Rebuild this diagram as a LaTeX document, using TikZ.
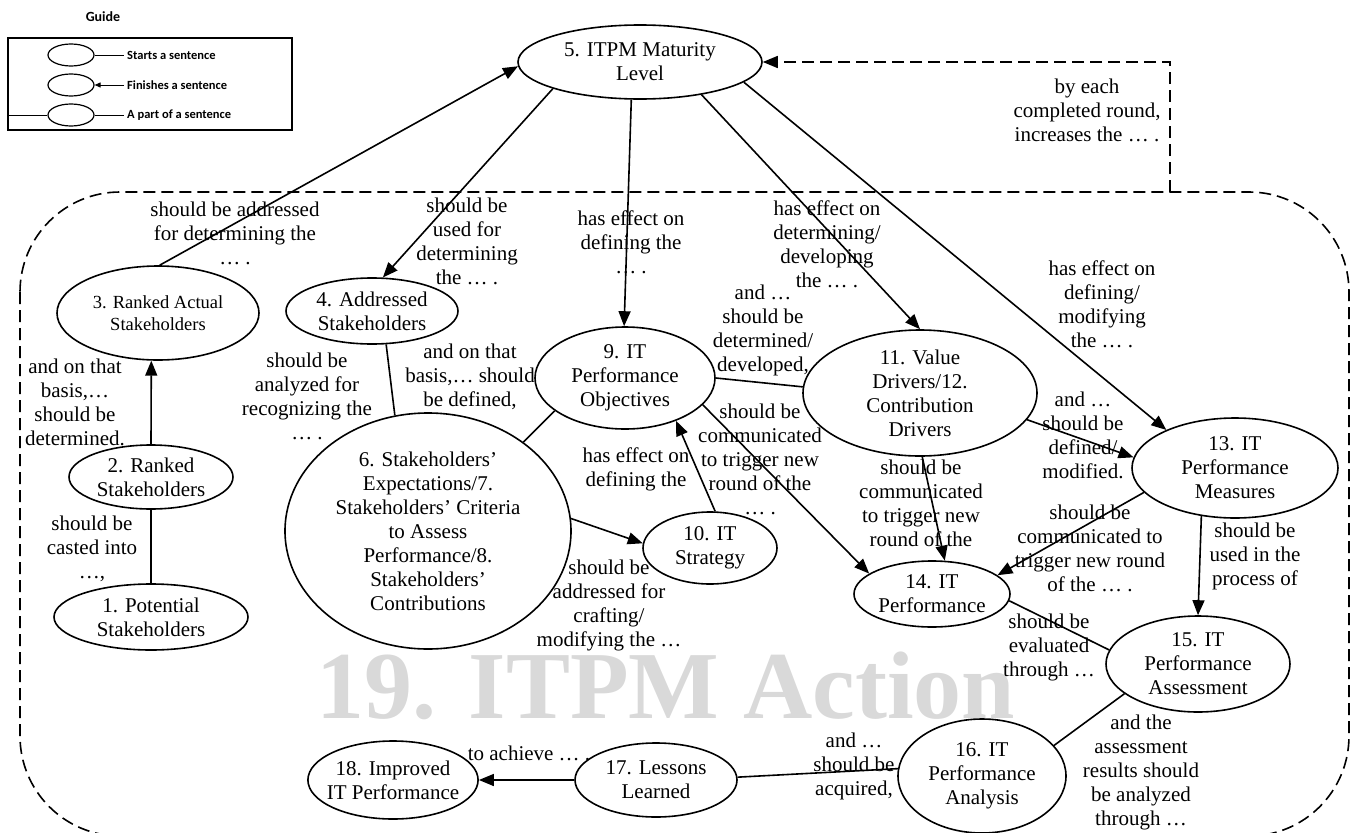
\documentclass[tikz,border=0pt]{standalone}
\usepackage{fontspec}
\setmainfont{Liberation Serif}
\newfontfamily\guidefont{Carlito}
\usetikzlibrary{arrows.meta,shapes.geometric}

\begin{document}
\begin{tikzpicture}[x=1pt,y=-1pt,
  every node/.style={font=\fontsize{21}{24}\selectfont},
  stage/.style={ellipse,draw,line width=1.6pt,inner sep=-6pt,align=center},
  lbl/.style={align=center,inner sep=0pt},
  link/.style={line width=1.6pt},
  arr/.style={line width=1.6pt,-{Triangle[length=15pt,width=12pt]}},
  loopline/.style={line width=1.6pt,dash pattern=on 12pt off 6pt},
  guidetext/.style={font=\guidefont\bfseries\fontsize{12.5}{14}\selectfont,anchor=west,inner sep=0pt},
  guideoval/.style={ellipse,draw,line width=1.2pt,minimum width=46pt,minimum height=22pt,inner sep=0pt},
  guideline/.style={line width=1pt},
]
\useasboundingbox (0,0) rectangle (1353,833);

% large background caption of the action cycle
\node[font=\fontsize{96}{96}\selectfont\bfseries,text=black!15,inner sep=0pt] (action) at (666,686) {19. ITPM Action};

% guide
\node[font=\guidefont\bfseries\fontsize{14}{16}\selectfont,inner sep=0pt] (gtitle) at (103,17) {Guide};
\draw[line width=1.2pt] (8,38) rectangle (292,130);
\node[guideoval] (g1) at (71,55) {};
\node[guideoval] (g2) at (71,85) {};
\node[guideoval] (g3) at (71,115) {};
\coordinate (g1e) at (124,55);
\coordinate (g2s) at (124,85);
\coordinate (g3w) at (8,115);
\coordinate (g3e) at (124,115);
\draw[guideline] (g1) -- (g1e);
\draw[guideline,-{Triangle[length=6pt,width=5pt]}] (g2s) -- (g2);
\draw[guideline] (g3w) -- (g3);
\draw[guideline] (g3) -- (g3e);
\node[guidetext] (g1t) at (127,55) {Starts a sentence};
\node[guidetext] (g2t) at (127,85) {Finishes a sentence};
\node[guidetext] (g3t) at (127,115) {A part of a sentence};

% the action cycle frame and its feedback to the maturity level
\draw[loopline,rounded corners=100pt] (20,192) rectangle (1349,836);

% stages
\node[stage,minimum width=244pt,minimum height=74pt] (n5) at (640,62) {5. ITPM Maturity\\Level};
\node[stage,minimum width=202pt,minimum height=94pt,font=\fontsize{18.5}{22}\selectfont] (n3) at (158,313) {3. Ranked Actual\\Stakeholders};
\node[stage,minimum width=172pt,minimum height=66pt] (n4) at (372,311) {4. Addressed\\Stakeholders};
\node[stage,minimum width=164pt,minimum height=64pt] (n2) at (151,477) {2. Ranked\\Stakeholders};
\node[stage,minimum width=194pt,minimum height=66pt] (n1) at (151,617) {1. Potential\\Stakeholders};
\node[stage,minimum width=286pt,minimum height=236pt] (n6) at (428,531) {6. Stakeholders’\\Expectations/7.\\Stakeholders’ Criteria\\to Assess\\Performance/8.\\Stakeholders’\\Contributions};
\node[stage,minimum width=180pt,minimum height=102pt] (n9) at (625,378) {9. IT\\Performance\\Objectives};
\node[stage,minimum width=134pt,minimum height=72pt] (n10) at (710,548) {10. IT\\Strategy};
\node[stage,minimum width=234pt,minimum height=126pt] (n11) at (920,393) {11. Value\\Drivers/12.\\Contribution\\Drivers};
\node[stage,minimum width=206pt,minimum height=100pt] (n13) at (1235,468) {13. IT\\Performance\\Measures};
\node[stage,minimum width=156pt,minimum height=66pt] (n14) at (932,594) {14. IT\\Performance};
\node[stage,minimum width=184pt,minimum height=96pt] (n15) at (1198,664) {15. IT\\Performance\\Assessment};
\node[stage,minimum width=168pt,minimum height=114pt] (n16) at (982,776) {16. IT\\Performance\\Analysis};
\node[stage,minimum width=162pt,minimum height=74pt] (n17) at (656,780) {17. Lessons\\Learned};
\node[stage,minimum width=168pt,minimum height=78pt] (n18) at (393,780) {18. Improved\\IT Performance};

\coordinate (fb) at (1170,192);
\draw[loopline,-{Triangle[length=15pt,width=12pt]}] (fb) |- (n5.east);

% connectors
\draw[arr] (n3.88) -- (n5.182);
\draw[arr] (n5.197) -- (n4.72);
\draw[arr] (n5.257) -- (n9.91);
\draw[arr] (n5.332) -- (n11.90);
\draw[arr] (n5.349) -- (n13.151);
\draw[arr] (n2.90) -- (n3.262);
\draw[link] (n1.90) -- (n2.270);
\draw[link] (n4.293) -- (n6.106);
\draw[link] (n6.43) -- (n9.205);
\draw[arr] (n6.5) -- (n10.176);
\draw[arr] (n10.82) -- (n9.320);
\draw[link] (n9.0) -- (n11.177);
\draw[arr] (n9.341) -- (n14.162);
\draw[arr] (n11.272) -- (n14.69);
\draw[arr] (n11.346) -- (n13.174);
\draw[arr] (n13.195) -- (n14.16);
\draw[arr] (n13.235) -- (n15.90);
\draw[link] (n14.355) -- (n15.171);
\draw[link] (n15.202) -- (n16.23);
\draw[link] (n16.175) -- (n17.2);
\draw[arr] (n17.west) -- (n18.east);

% connector texts
\node[lbl] (t35) at (235,233) {should be addressed\\for determining the\\… .};
\node[lbl] (t54) at (467,241) {should be\\used for\\determining\\the … .};
\node[lbl] (t59) at (631,242) {has effect on\\defining the\\… .};
\node[lbl] (t511) at (827,244) {has effect on\\determining/\\developing\\the … .};
\node[lbl] (t513) at (1102,304) {has effect on\\defining/\\modifying\\the … .};
\node[lbl] (t23) at (75,402) {and on that\\basis,…\\should be\\determined.};
\node[lbl] (t12) at (92,549) {should be\\casted into\\…,};
\node[lbl] (t46) at (307,396) {should be\\analyzed for\\recognizing the\\… .};
\node[lbl] (t69) at (470,377) {and on that\\basis,… should\\be defined,};
\node[lbl] (t610) at (609,605) {should be\\addressed for\\crafting/\\modifying the …};
\node[lbl] (t109) at (636,469) {has effect on\\defining the};
\node[lbl] (t911) at (763,330) {and …\\should be\\determined/\\developed,};
\node[lbl] (t914) at (760,459) {should be\\communicated\\to trigger new\\round of the\\… .};
\node[lbl] (t1114) at (921,503) {should be\\communicated\\to trigger new\\round of the};
\node[lbl] (t1113) at (1083,435) {and …\\should be\\defined/\\modified.};
\node[lbl] (t1314) at (1090,548) {should be\\communicated to\\trigger new round\\of the … .};
\node[lbl] (t1315) at (1255,556) {should be\\used in the\\process of};
\node[lbl] (t1415) at (1049,647) {should be\\evaluated\\through …};
\node[lbl] (t1516) at (1141,772) {and the\\assessment\\results should\\be analyzed\\through …};
\node[lbl] (t1617) at (854,766) {and …\\should be\\acquired,};
\node[lbl] (t1718) at (529,753) {to achieve … .};
\node[lbl] (tfb) at (1087,110) {by each\\completed round,\\increases the … .};
\end{tikzpicture}
\end{document}
